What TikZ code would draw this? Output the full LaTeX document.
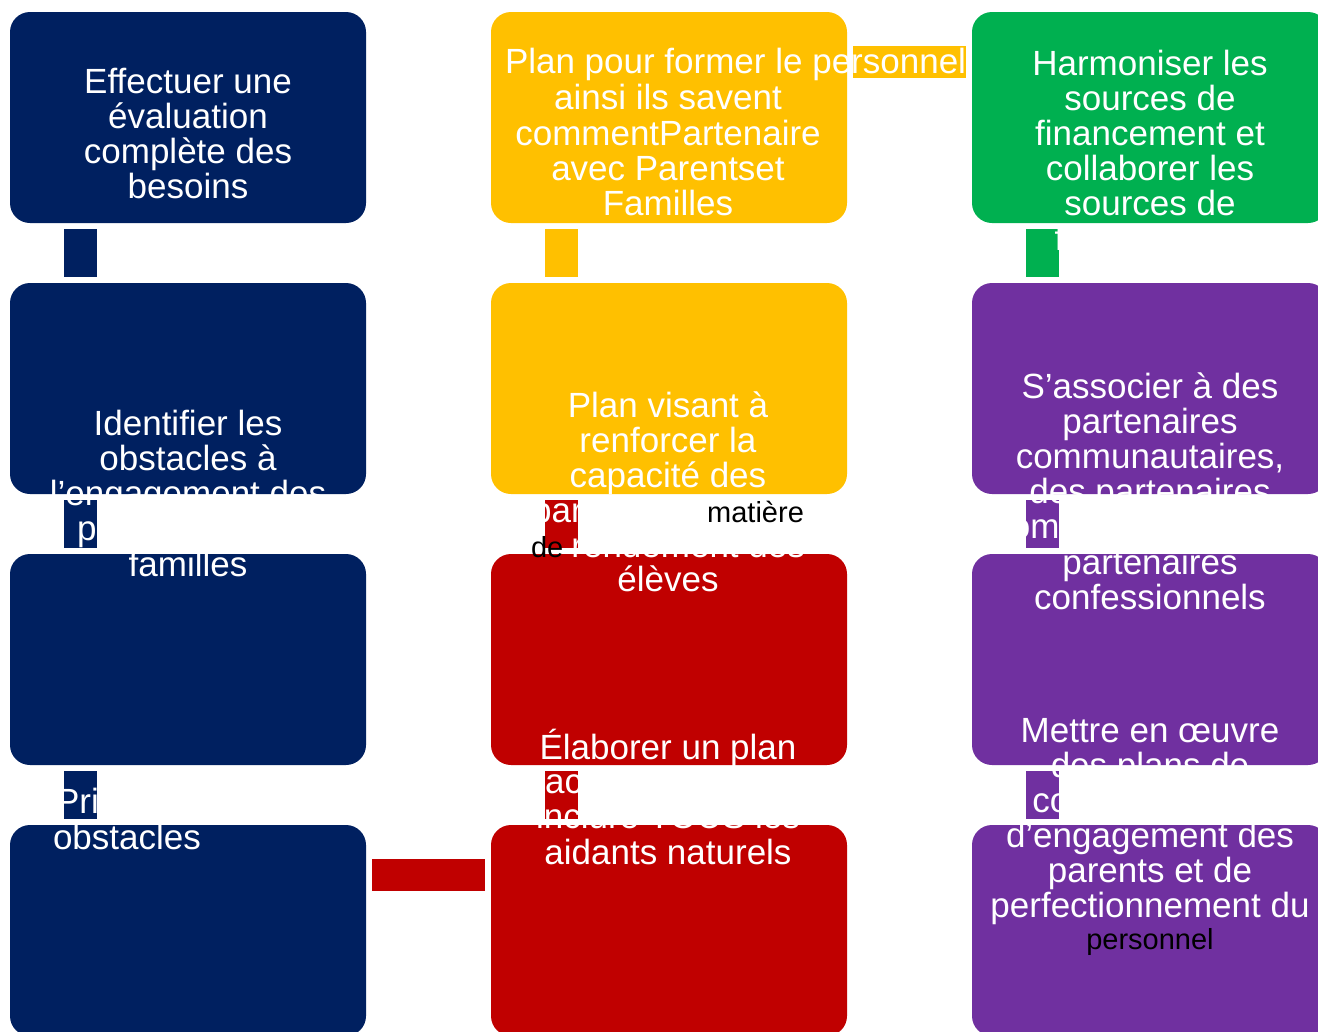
\documentclass[tikz,border=0pt]{standalone}
\usepackage{fontspec}
\setmainfont{Liberation Sans}
\usetikzlibrary{calc}
\definecolor{cnavy}{HTML}{002060}
\definecolor{cgold}{HTML}{FFC000}
\definecolor{cgreen}{HTML}{00B050}
\definecolor{cpurple}{HTML}{7030A0}
\definecolor{cred}{HTML}{C00000}
\newcommand\mywf{\fontsize{26.25pt}{26.25pt}\selectfont}
\newcommand\mykf{\fontsize{21.75pt}{21.75pt}\selectfont}
\begin{document}
\begin{tikzpicture}[x=0.75pt,y=-0.75pt,
 box/.style={rectangle, rounded corners=15pt, minimum width=267pt, minimum height=158.25pt, inner sep=0pt, outer sep=0pt},
 bar/.style={line width=24.75pt, shorten <=4.5pt, shorten >=4.5pt},
 hbar/.style={line width=24pt, shorten <=4.5pt, shorten >=4.5pt},
 tl/.style={anchor=base, inner sep=0pt, outer sep=0pt, text=white, font=\mywf},
 tlw/.style={tl, anchor=base west},
 kl/.style={tl, text=black, font=\mykf}]
\useasboundingbox (0,0) rectangle (1318,1032);
\clip (0,0) rectangle (1318,1032);
\fill[white] (0,0) rectangle (1318,1032);
% boxes
\node[box, fill=cnavy] (a1) at (188,117.5) {};
\node[box, fill=cnavy] (a2) at (188,388.5) {};
\node[box, fill=cnavy] (a3) at (188,659.5) {};
\node[box, fill=cnavy] (a4) at (188,930.5) {};
\node[box, fill=cgold] (b1) at (669,117.5) {};
\node[box, fill=cgold] (b2) at (669,388.5) {};
\node[box, fill=cred] (b3) at (669,659.5) {};
\node[box, fill=cred] (b4) at (669,930.5) {};
\node[box, fill=cgreen] (c1) at (1150,117.5) {};
\node[box, fill=cpurple] (c2) at (1150,388.5) {};
\node[box, fill=cpurple] (c3) at (1150,659.5) {};
\node[box, fill=cpurple] (c4) at (1150,930.5) {};
% connectors
\draw[bar, cnavy] ($(a1.south west)+(70.5,0)$) -- ($(a2.north west)+(70.5,0)$);
\draw[bar, cnavy] ($(a2.south west)+(70.5,0)$) -- ($(a3.north west)+(70.5,0)$);
\draw[bar, cnavy] ($(a3.south west)+(70.5,0)$) -- ($(a4.north west)+(70.5,0)$);
\draw[bar, cgold] ($(b1.south west)+(70.5,0)$) -- ($(b2.north west)+(70.5,0)$);
\draw[bar, cred] ($(b2.south west)+(70.5,0)$) -- ($(b3.north west)+(70.5,0)$);
\draw[bar, cred] ($(b3.south west)+(70.5,0)$) -- ($(b4.north west)+(70.5,0)$);
\draw[bar, cgreen] ($(c1.south west)+(70.5,0)$) -- ($(c2.north west)+(70.5,0)$);
\draw[bar, cpurple] ($(c2.south west)+(70.5,0)$) -- ($(c3.north west)+(70.5,0)$);
\draw[bar, cpurple] ($(c3.south west)+(70.5,0)$) -- ($(c4.north west)+(70.5,0)$);
\draw[hbar, cgold] ($(b1.north east)+(0,50)$) -- ($(c1.north west)+(0,50)$);
\draw[hbar, cred] ($(a4.north east)+(0,50)$) -- ($(b4.north west)+(0,50)$);
% texts column 1
\node[tl] (ta1) at (188,93) {Effectuer une};
\node[tl] (ta2) at (188,128) {évaluation};
\node[tl] (ta3) at (188,163) {complète des};
\node[tl] (ta4) at (188,198) {besoins};
\node[tl] (tb1) at (188,435) {Identifier les};
\node[tl] (tb2) at (188,470) {obstacles à};
\node[tl] (tb3) at (188,505) {l’engagement des};
\node[tl] (tb4) at (188,540) {parents et des};
\node[tl] (tb5) at (188,576) {familles};
\node[tlw] (td1) at (56,813) {Prioriser les};
\node[tlw] (td2) at (53,849) {obstacles};
% texts column 2
\node[tlw] (te1) at (505,73) {Plan pour former le personnel};
\node[tl] (te2) at (668,109) {ainsi ils savent};
\node[tl] (te3) at (668,145) {commentPartenaire};
\node[tl] (te4) at (668,180) {avec Parentset};
\node[tl] (te5) at (668,215) {Familles};
\node[tl] (tf1) at (668,417) {Plan visant à};
\node[tl] (tf2) at (668,452) {renforcer la};
\node[tl] (tf3) at (668,487) {capacité des};
\node[tl] (tf4) at (668,522) {parents en {\color{black}\mykf matière}};
\node[tl] (tf5) at (668,557) {{\color{black}\mykf de }rendement des};
\node[tl] (tf6) at (668,591) {élèves};
\node[tl] (tg1) at (668,759) {Élaborer un plan};
\node[tlw] (tg2) at (518,793) {d’action pour};
\node[tl] (tg3) at (668,828) {inclure TOUS les};
\node[tl] (tg4) at (668,864) {aidants naturels};
% texts column 3
\node[tl] (th1) at (1150,75) {Harmoniser les};
\node[tl] (th2) at (1150,110) {sources de};
\node[tl] (th3) at (1150,145) {financement et};
\node[tl] (th4) at (1150,180) {collaborer les};
\node[tl] (th5) at (1150,215) {sources de};
\node[tl] (th6) at (1150,250) {financement};
\node[tl] (ti1) at (1150,398) {S’associer à des};
\node[tl] (ti2) at (1150,433) {partenaires};
\node[tl] (ti3) at (1150,468) {communautaires,};
\node[tl] (ti4) at (1150,503) {des partenaires};
\node[tl] (ti5) at (1150,538) {commerciaux et des};
\node[tl] (ti6) at (1150,574) {partenaires};
\node[tl] (ti7) at (1150,609) {confessionnels};
\node[tl] (tj1) at (1150,742) {Mettre en œuvre};
\node[tl] (tj2) at (1150,777) {des plans de};
\node[tl] (tj3) at (1150,812) {communication};
\node[tl] (tj4) at (1150,847) {d’engagement des};
\node[tl] (tj5) at (1150,882) {parents et de};
\node[tl] (tj6) at (1150,917) {perfectionnement du};
\node[kl] (tj7) at (1150,949) {personnel};
\end{tikzpicture}
\end{document}
